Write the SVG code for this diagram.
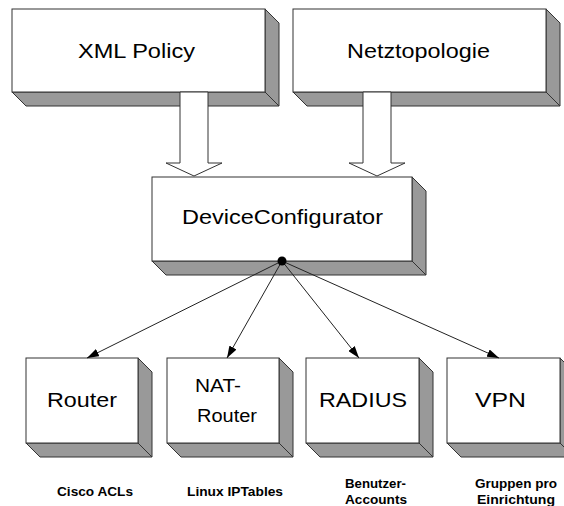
<svg xmlns="http://www.w3.org/2000/svg" width="564" height="506" viewBox="0 0 564 506">
  <style>
    .face { fill: #ffffff; stroke: #333333; stroke-width: 1; }
    .depth { fill: #999999; stroke: #333333; stroke-width: 1; stroke-linejoin: round; }
    .flow { fill: #ffffff; stroke: #333333; stroke-width: 1; }
    .label { font-family: "Liberation Sans", Arial, sans-serif; font-size: 21px; fill: #000000; }
    .small { font-size: 18px; }
    .note { font-family: "Liberation Sans", Arial, sans-serif; font-size: 12.5px; font-weight: bold; fill: #000000; }
    .link { stroke: #222222; stroke-width: 1; fill: none; marker-end: url(#tip); }
  </style>
  <defs>
    <marker id="tip" markerUnits="userSpaceOnUse" markerWidth="12" markerHeight="8" refX="12" refY="4" orient="auto">
      <path d="M0,0 L12,4 L0,8 z" fill="#000000"/>
    </marker>
  </defs>

  <rect width="564" height="506" fill="#ffffff"/>

  <!-- input sources -->
  <g id="xml-policy">
    <polygon class="depth" points="265,9 279,23 279,106 265,92"/>
    <polygon class="depth" points="12,92 265,92 279,106 26,106"/>
    <rect class="face" x="12" y="9" width="253" height="83"/>
    <text class="label" x="78" y="58" textLength="117" lengthAdjust="spacingAndGlyphs">XML Policy</text>
  </g>

  <g id="netztopologie">
    <polygon class="depth" points="546,9 560,23 560,106 546,92"/>
    <polygon class="depth" points="293,92 546,92 560,106 307,106"/>
    <rect class="face" x="293" y="9" width="253" height="83"/>
    <text class="label" x="347" y="58" textLength="143" lengthAdjust="spacingAndGlyphs">Netztopologie</text>
  </g>

  <!-- block arrows into the configurator -->
  <g id="inputs">
    <polygon class="flow" points="180,92 208,92 208,163 222,163 194,176 166,163 180,163"/>
    <polygon class="flow" points="363,92 391,92 391,163 405,163 377,176 349,163 363,163"/>
  </g>

  <g id="device-configurator">
    <polygon class="depth" points="412,177 426,191 426,275 412,261"/>
    <polygon class="depth" points="152,261 412,261 426,275 166,275"/>
    <rect class="face" x="152" y="177" width="260" height="84"/>
    <text class="label" x="182" y="224" textLength="201" lengthAdjust="spacingAndGlyphs">DeviceConfigurator</text>
  </g>

  <!-- target devices -->
  <g id="router">
    <polygon class="depth" points="138,358 152,372 152,457 138,443"/>
    <polygon class="depth" points="26,443 138,443 152,457 40,457"/>
    <rect class="face" x="26" y="358" width="112" height="85"/>
    <text class="label" x="47" y="407" textLength="70" lengthAdjust="spacingAndGlyphs">Router</text>
  </g>

  <g id="nat-router">
    <polygon class="depth" points="279,358 293,372 293,457 279,443"/>
    <polygon class="depth" points="167,443 279,443 293,457 181,457"/>
    <rect class="face" x="167" y="358" width="112" height="85"/>
    <text class="label small" x="195" y="392" textLength="46" lengthAdjust="spacingAndGlyphs">NAT-</text>
    <text class="label small" x="197" y="422" textLength="60" lengthAdjust="spacingAndGlyphs">Router</text>
  </g>

  <g id="radius">
    <polygon class="depth" points="419,358 433,372 433,457 419,443"/>
    <polygon class="depth" points="306,443 419,443 433,457 320,457"/>
    <rect class="face" x="306" y="358" width="113" height="85"/>
    <text class="label" x="319" y="407" textLength="88" lengthAdjust="spacingAndGlyphs">RADIUS</text>
  </g>

  <g id="vpn">
    <polygon class="depth" points="560,358 574,372 574,457 560,443"/>
    <polygon class="depth" points="447,443 560,443 574,457 461,457"/>
    <rect class="face" x="447" y="358" width="113" height="85"/>
    <text class="label" x="475" y="407" textLength="51" lengthAdjust="spacingAndGlyphs">VPN</text>
  </g>

  <!-- fan-out from the configurator -->
  <g id="connectors">
    <line class="link" x1="282" y1="261" x2="87" y2="358"/>
    <line class="link" x1="282" y1="261" x2="227" y2="358"/>
    <line class="link" x1="282" y1="261" x2="359" y2="358"/>
    <line class="link" x1="282" y1="261" x2="499" y2="358"/>
    <circle cx="282" cy="261" r="4.5" fill="#000000"/>
  </g>

  <!-- per-device notes -->
  <g id="notes">
    <text class="note" x="57" y="496" textLength="76" lengthAdjust="spacingAndGlyphs">Cisco ACLs</text>
    <text class="note" x="187" y="496" textLength="96" lengthAdjust="spacingAndGlyphs">Linux IPTables</text>
    <text class="note" x="345" y="488" textLength="61" lengthAdjust="spacingAndGlyphs">Benutzer-</text>
    <text class="note" x="345" y="504" textLength="62" lengthAdjust="spacingAndGlyphs">Accounts</text>
    <text class="note" x="475" y="488" textLength="82" lengthAdjust="spacingAndGlyphs">Gruppen pro</text>
    <text class="note" x="477" y="504" textLength="78" lengthAdjust="spacingAndGlyphs">Einrichtung</text>
  </g>
</svg>
